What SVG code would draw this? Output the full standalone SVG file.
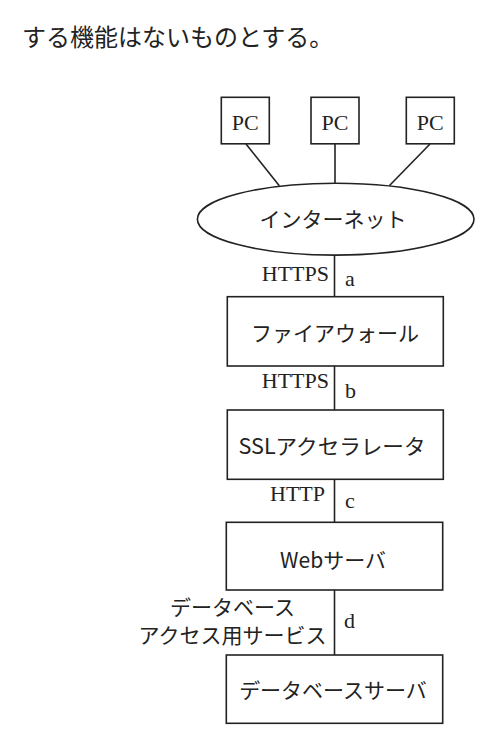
<svg xmlns="http://www.w3.org/2000/svg" width="495" height="746" viewBox="0 0 495 746">
<style>
.box{fill:#fff;stroke:#222;stroke-width:1.6}
.ln{stroke:#222;stroke-width:1.6;fill:none}
.jp{font-family:"Noto Sans CJK JP","Liberation Serif",serif;font-size:21px;fill:#222}
.lt{font-family:"Liberation Serif","Noto Sans CJK JP",serif;font-size:22px;fill:#222}
.mid{text-anchor:middle}
.end{text-anchor:end}
</style>
<rect width="495" height="746" fill="#fff"/>
<text x="22" y="46" class="jp" style="font-size:24px">する機能はないものとする。</text>
<g id="connectors">
<line class="ln" x1="246" y1="144" x2="279.3" y2="185.7"/>
<line class="ln" x1="335" y1="144" x2="335" y2="183.3"/>
<line class="ln" x1="430" y1="144" x2="389.3" y2="185.7"/>
<line class="ln" x1="334.5" y1="255" x2="334.5" y2="296.7"/>
<line class="ln" x1="334.5" y1="366" x2="334.5" y2="410"/>
<line class="ln" x1="334.5" y1="479.3" x2="334.5" y2="522.3"/>
<line class="ln" x1="334.5" y1="590" x2="334.5" y2="655"/>
<text x="329" y="280.5" class="lt end">HTTPS</text>
<text x="345" y="286" class="lt">a</text>
<text x="329" y="388.3" class="lt end">HTTPS</text>
<text x="345" y="397.7" class="lt">b</text>
<text x="325" y="500.5" class="lt end">HTTP</text>
<text x="345" y="508.3" class="lt">c</text>
<text x="232.5" y="615" class="jp mid">データベース</text>
<text x="232.5" y="643.3" class="jp mid">アクセス用サービス</text>
<text x="344" y="628.3" class="lt">d</text>
</g>
<g id="pc1"><rect class="box" x="221.3" y="97.3" width="48" height="46.5"/><text x="245.3" y="129.5" class="lt mid">PC</text></g>
<g id="pc2"><rect class="box" x="311" y="97.3" width="48" height="46.5"/><text x="335" y="129.5" class="lt mid">PC</text></g>
<g id="pc3"><rect class="box" x="406.3" y="97.3" width="48" height="46.5"/><text x="430.3" y="129.5" class="lt mid">PC</text></g>
<g id="internet"><ellipse class="box" cx="335.7" cy="219.2" rx="138.3" ry="35.9"/><text x="333" y="227" class="jp mid">インターネット</text></g>
<g id="firewall"><rect class="box" x="227.3" y="296.7" width="216" height="69.3"/><text x="335" y="340.7" class="jp mid">ファイアウォール</text></g>
<g id="ssl"><rect class="box" x="227.3" y="410" width="216" height="69.3"/><text x="332" y="454" class="jp mid" textLength="187" lengthAdjust="spacingAndGlyphs">SSLアクセラレータ</text></g>
<g id="web"><rect class="box" x="226.3" y="522.3" width="216.4" height="67.7"/><text x="333" y="568.3" class="jp mid">Webサーバ</text></g>
<g id="db"><rect class="box" x="226.3" y="655" width="216.4" height="68.3"/><text x="333" y="698.3" class="jp mid">データベースサーバ</text></g>
</svg>
